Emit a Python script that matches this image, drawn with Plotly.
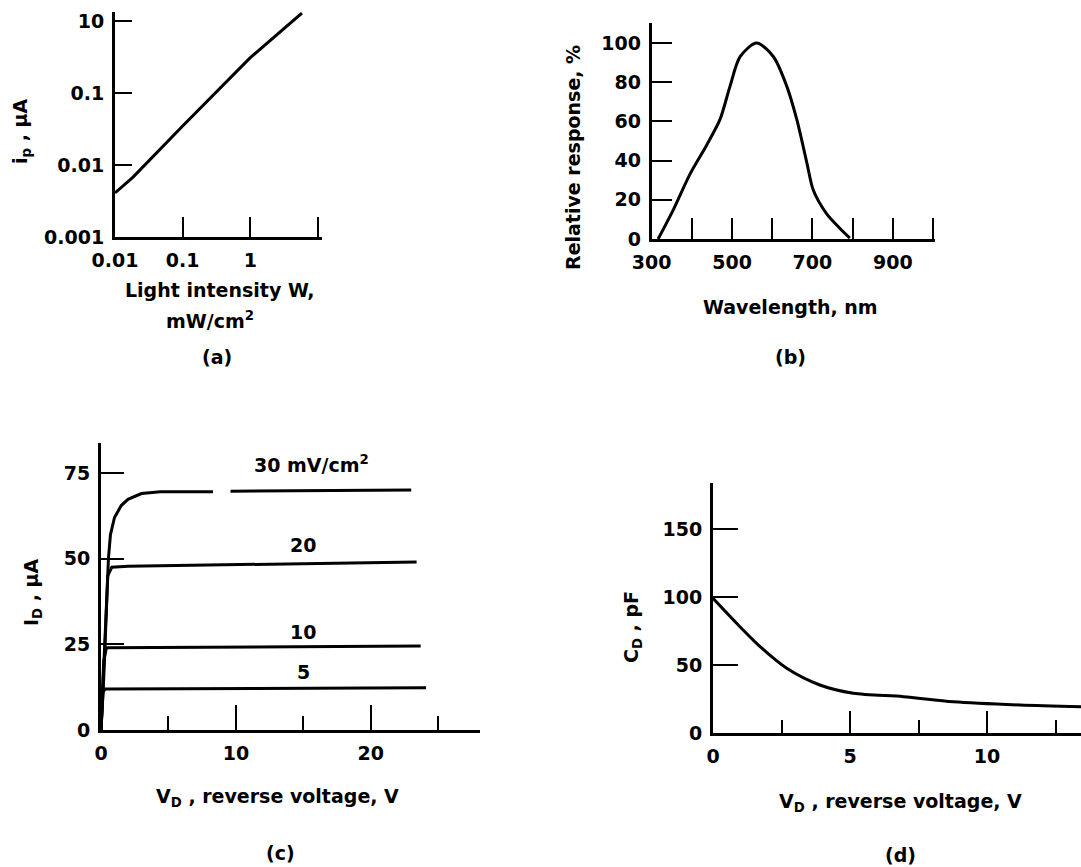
import plotly.graph_objects as go

W, H = 1081, 867

# ---------------- data ----------------
# (a) photocurrent vs light intensity (log-log)
intensity_a = [0.01, 0.0185, 0.1, 1.0, 5.8]
current_a = [0.0041, 0.0068, 0.0349, 0.309, 1.29]
a_xticks = [0.01, 0.1, 1]
a_xticktext = ["0.01", "0.1", "1"]
a_xminor = [10]
a_yticks = [1, 0.1, 0.01, 0.001]
a_yticktext = ["10", "0.1", "0.01", "0.001"]

# (b) relative spectral response
wavelength_b = [316, 354, 395, 437, 470, 495, 520, 561, 603, 636, 661, 686, 702, 735, 768, 793]
response_b = [0, 15, 33, 48, 61, 78, 93, 100, 93, 78, 61, 39, 25, 13, 5.5, 0.5]
b_xticks = [300, 500, 700, 900]
b_xminor = [400, 600, 800, 1000]
b_yticks = [0, 20, 40, 60, 80, 100]

# (c) I_D vs reverse voltage for several light levels
v_30 = [0, 0.2, 0.4, 0.55, 0.7, 1.0, 1.5, 2.0, 3.0, 4.4, 8.3, None, 9.6, 23.0]
i_30 = [0, 15, 35, 50, 57, 62, 65.5, 67.3, 69, 69.5, 69.5, None, 69.7, 70.0]
v_20 = [0, 0.3, 0.5, 0.8, 2.0, 23.4]
i_20 = [0, 30, 45, 47.5, 47.8, 49.0]
v_10 = [0, 0.2, 0.4, 23.7]
i_10 = [0, 20, 24, 24.5]
v_5 = [0, 0.15, 0.3, 24.1]
i_5 = [0, 11, 12, 12.3]
c_labels = ["30 mV/cm<sup>2</sup>", "20", "10", "5"]
c_label_v = [15.6, 15.0, 15.0, 15.0]
c_label_i = [77.5, 54.0, 28.7, 17.0]
c_xticks = [0, 10, 20]
c_xminor = [5, 15, 25]
c_yticks = [0, 25, 50, 75]

# (d) junction capacitance vs reverse voltage
v_d = [0, 0.86, 1.72, 2.69, 3.9, 5.12, 6.95, 8.77, 11.2, 13.43]
c_d = [99, 80.7, 63.5, 47.6, 35.3, 29.2, 26.7, 23.0, 20.6, 19.3]
d_xticks = [0, 5, 10]
d_xminor = [2.5, 7.5, 12.5]
d_yticks = [0, 50, 100, 150]

# ---------------- figure ----------------
FONT = dict(family="DejaVu Sans", size=19, color="black", weight="bold")
INK = "black"


def px_x(p):
    return p / W


def px_y(p):
    return 1 - p / H


def minor(vals, length):
    return dict(tickmode="array", tickvals=vals, ticks="inside", ticklen=length,
                tickwidth=2, tickcolor=INK, showgrid=False)


fig = go.Figure()

line = dict(color=INK, width=3)
fig.add_trace(go.Scatter(x=intensity_a, y=current_a, mode="lines", line=line,
                         xaxis="x", yaxis="y", showlegend=False))
fig.add_trace(go.Scatter(x=wavelength_b, y=response_b, mode="lines",
                         line=dict(color=INK, width=3, shape="spline", smoothing=0.8),
                         xaxis="x2", yaxis="y2", showlegend=False))
for vx, iy in [(v_30, i_30), (v_20, i_20), (v_10, i_10), (v_5, i_5)]:
    fig.add_trace(go.Scatter(x=vx, y=iy, mode="lines", line=line, connectgaps=False,
                             xaxis="x3", yaxis="y3", showlegend=False))
fig.add_trace(go.Scatter(x=v_d, y=c_d, mode="lines",
                         line=dict(color=INK, width=3, shape="spline", smoothing=0.8),
                         xaxis="x4", yaxis="y4", showlegend=False))

common = dict(showline=True, linecolor=INK, linewidth=3, showgrid=False, zeroline=False,
              ticks="inside", tickcolor=INK, tickwidth=2, tickfont=FONT,
              ticklabelstandoff=4, fixedrange=True, automargin=False)

layout = dict(
    template="none",
    width=W, height=H, margin=dict(l=0, r=0, t=0, b=0, pad=0), autosize=False,
    paper_bgcolor="white", plot_bgcolor="white", font=FONT,
    # (a)
    xaxis=dict(common, type="log", domain=[px_x(115), px_x(322)], range=[-2, 1.06],
               tickmode="array", tickvals=a_xticks, ticktext=a_xticktext, ticklen=20,
               minor=minor(a_xminor, 20), anchor="y"),
    yaxis=dict(common, type="log", domain=[px_y(237), px_y(12)], range=[-3, 0.125],
               tickmode="array", tickvals=a_yticks, ticktext=a_yticktext, ticklen=17,
               anchor="x"),
    # (b)
    xaxis2=dict(common, domain=[px_x(651.7), px_x(935)], range=[300, 1005],
                tickmode="array", tickvals=b_xticks, ticklen=21,
                minor=minor(b_xminor, 21), anchor="y2"),
    yaxis2=dict(common, domain=[px_y(239), px_y(23)], range=[0, 110.2],
                tickmode="array", tickvals=b_yticks, ticklen=20, anchor="x2"),
    # (c)
    xaxis3=dict(common, domain=[px_x(101), px_x(480)], range=[0, 28.1],
                tickmode="array", tickvals=c_xticks, ticklen=25,
                minor=minor(c_xminor, 14), anchor="y3"),
    yaxis3=dict(common, domain=[px_y(730), px_y(443)], range=[0, 83.75],
                tickmode="array", tickvals=c_yticks, ticklen=23, anchor="x3"),
    # (d)
    xaxis4=dict(common, domain=[px_x(713), 1.0], range=[0, 13.43],
                tickmode="array", tickvals=d_xticks, ticklen=22,
                minor=minor(d_xminor, 13), anchor="y4"),
    yaxis4=dict(common, domain=[px_y(733), px_y(483)], range=[0, 183.8],
                tickmode="array", tickvals=d_yticks, ticklen=25, anchor="x4"),
)
fig.update_layout(**layout)


def ann(text, px, py, angle=0):
    return dict(text=text, x=px_x(px), y=px_y(py), xref="paper", yref="paper",
                showarrow=False, textangle=angle, font=FONT,
                xanchor="center", yanchor="middle")


annotations = [
    ann("i<sub>p</sub> , μA", 21, 132, -90),
    ann("Light intensity W,", 220, 290),
    ann("mW/cm<sup>2</sup>", 210, 320),
    ann("(a)", 217, 357),
    ann("Relative response, %", 573, 158, -90),
    ann("Wavelength, nm", 790, 307),
    ann("(b)", 790, 357),
    ann("I<sub>D</sub> , μA", 32, 592, -90),
    ann("V<sub>D</sub> , reverse voltage, V", 277, 797),
    ann("(c)", 280, 853),
    ann("C<sub>D</sub> , pF", 632, 627, -90),
    ann("V<sub>D</sub> , reverse voltage, V", 900, 802),
    ann("(d)", 900, 855),
]
for txt, vx, iy in zip(c_labels, c_label_v, c_label_i):
    annotations.append(dict(text=txt, x=vx, y=iy, xref="x3", yref="y3", showarrow=False,
                            font=FONT, xanchor="center", yanchor="middle"))
fig.update_layout(annotations=annotations)

fig.write_html(
    "out.html",
    config={"responsive": False, "displayModeBar": False},
    post_script="document.body.style.margin='0';document.body.style.overflow='hidden';",
)
